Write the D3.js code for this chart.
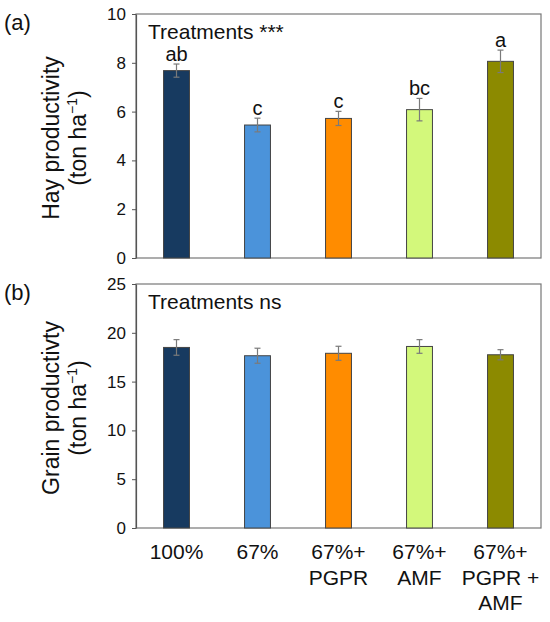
<!DOCTYPE html>
<html lang="en">
<head>
<meta charset="utf-8">
<title>Hay and grain productivity</title>
<script src="https://cdn.jsdelivr.net/npm/d3@7"></script>
<style>
  body { margin: 0; background: #fff; }
  text { font-family: "Liberation Sans", Arial, sans-serif; fill: #111; }
</style>
</head>
<body>
<script>
// treatments and their bar colours
var categories = ["100%", "67%", "67%+ PGPR", "67%+ AMF", "67%+ PGPR + AMF"];
var catLines = [["100%"], ["67%"], ["67%+", "PGPR"], ["67%+", "AMF"], ["67%+", "PGPR +", "AMF"]];
var colors = ["#173a60", "#4b93da", "#ff8c00", "#d3f87b", "#8c8a00"];

// (a) hay productivity, ton/ha
var hayMean = [7.68, 5.45, 5.72, 6.08, 8.06];
var hayErr = [0.27, 0.28, 0.29, 0.46, 0.46];
var hayLetters = ["ab", "c", "c", "bc", "a"];
var hayTicks = [0, 2, 4, 6, 8, 10];

// (b) grain productivity, ton/ha
var grainMean = [18.5, 17.65, 17.9, 18.6, 17.75];
var grainErr = [0.8, 0.77, 0.72, 0.7, 0.52];
var grainTicks = [0, 5, 10, 15, 20, 25];

var W = 550, H = 622;
var svg = d3.select("body").append("svg").attr("width", W).attr("height", H);

var x = d3.scaleBand()
  .domain(categories)
  .range([136, 541])
  .paddingInner(0.68)
  .paddingOuter(0.34);

function panel(opts) {
  var y = d3.scaleLinear().domain([0, opts.max]).range([opts.bottom, opts.top]);
  var g = svg.append("g");

  // frame
  g.append("rect")
    .attr("x", 136).attr("y", opts.top)
    .attr("width", 541 - 136).attr("height", opts.bottom - opts.top)
    .attr("fill", "none").attr("stroke", "#777").attr("stroke-width", 1.2);

  // y axis
  var ax = g.append("g")
    .attr("transform", "translate(136,0)")
    .call(d3.axisLeft(y).tickValues(opts.ticks).tickSize(4).tickSizeOuter(0).tickPadding(6));
  ax.select(".domain").attr("stroke", "#555").attr("stroke-width", 1.2);
  ax.selectAll(".tick line").attr("stroke", "#555");
  ax.selectAll(".tick text").style("font-size", "17px").style("font-family", "Liberation Sans, Arial, sans-serif").attr("fill", "#111");

  // bars
  g.selectAll("rect.bar")
    .data(opts.mean)
    .enter().append("rect")
    .attr("class", "bar")
    .attr("x", function(d, i) { return x(categories[i]); })
    .attr("width", x.bandwidth())
    .attr("y", function(d) { return y(d); })
    .attr("height", function(d) { return y(0) - y(d); })
    .attr("fill", function(d, i) { return colors[i]; })
    .attr("stroke", "#444").attr("stroke-width", 1);

  // error bars
  var eb = g.selectAll("g.err")
    .data(opts.mean)
    .enter().append("g")
    .attr("class", "err")
    .attr("stroke", "#7a7a7a").attr("stroke-width", 1.2);
  eb.append("line")
    .attr("x1", function(d, i) { return x(categories[i]) + x.bandwidth() / 2; })
    .attr("x2", function(d, i) { return x(categories[i]) + x.bandwidth() / 2; })
    .attr("y1", function(d, i) { return y(d - opts.err[i]); })
    .attr("y2", function(d, i) { return y(d + opts.err[i]); });
  [-1, 1].forEach(function(s) {
    eb.append("line")
      .attr("x1", function(d, i) { return x(categories[i]) + x.bandwidth() / 2 - 3; })
      .attr("x2", function(d, i) { return x(categories[i]) + x.bandwidth() / 2 + 3; })
      .attr("y1", function(d, i) { return y(d + s * opts.err[i]); })
      .attr("y2", function(d, i) { return y(d + s * opts.err[i]); });
  });

  // significance letters
  if (opts.letters) {
    g.selectAll("text.letter")
      .data(opts.letters)
      .enter().append("text")
      .attr("class", "letter")
      .attr("x", function(d, i) { return x(categories[i]) + x.bandwidth() / 2; })
      .attr("y", function(d, i) { return y(opts.mean[i] + opts.err[i]) - 3; })
      .attr("text-anchor", "middle")
      .style("font-size", "20px")
      .text(function(d) { return d; });
  }

  g.append("text")
    .attr("x", 148).attr("y", opts.top + 25)
    .style("font-size", "21px")
    .text(opts.note);

  g.append("text")
    .attr("x", 4).attr("y", opts.top + 16)
    .style("font-size", "22px")
    .text(opts.panel);

  // y title, two lines
  var cy = (opts.top + opts.bottom) / 2 + 2;
  g.append("text")
    .attr("transform", "translate(59," + cy + ") rotate(-90)")
    .attr("text-anchor", "middle")
    .style("font-size", "23px")
    .text(opts.title);
  var t2 = g.append("text")
    .attr("transform", "translate(86," + cy + ") rotate(-90)")
    .attr("text-anchor", "middle")
    .style("font-size", "23px");
  t2.append("tspan").text("(ton ha");
  t2.append("tspan").attr("dy", -9).style("font-size", "14px").text("\u22121");
  t2.append("tspan").attr("dy", 9).text(")");

  return y;
}

panel({ top: 14, bottom: 258, max: 10, ticks: hayTicks, mean: hayMean, err: hayErr,
        letters: hayLetters, note: "Treatments ***", panel: "(a)", title: "Hay productivity" });
panel({ top: 284, bottom: 528, max: 25, ticks: grainTicks, mean: grainMean, err: grainErr,
        letters: null, note: "Treatments ns", panel: "(b)", title: "Grain productivty" });

// category labels under panel (b)
var lab = svg.selectAll("text.cat")
  .data(catLines)
  .enter().append("text")
  .attr("class", "cat")
  .attr("text-anchor", "middle")
  .style("font-size", "21px");
lab.each(function(lines, i) {
  var t = d3.select(this);
  lines.forEach(function(s, k) {
    t.append("tspan")
      .attr("x", x(categories[i]) + x.bandwidth() / 2)
      .attr("y", 559 + k * 25.5)
      .text(s);
  });
});
</script>
</body>
</html>
